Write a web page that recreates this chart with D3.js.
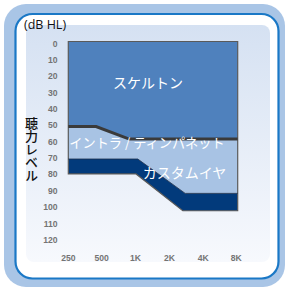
<!DOCTYPE html>
<html><head><meta charset="utf-8">
<script src="https://cdn.jsdelivr.net/npm/d3@7"></script>
<style>html,body{margin:0;padding:0;background:#fff;}svg{display:block;}</style>
</head><body>
<svg id="c" width="287" height="290"></svg>
<script>
// ---- data ----
const freqLabels = ["250", "500", "1K", "2K", "4K", "8K"];
const yTickValues = [0, 10, 20, 30, 40, 50, 60, 70, 80, 90, 100, 110, 120];
// [frequency position (0 = 250 Hz ... 5 = 8K), dB HL]
const skeletonBottom = [[0, 52], [0.82, 52], [1.8, 59.6], [5, 59.6]];
const customTop = [[0, 71.8], [2.05, 71.8], [3.45, 92.8], [5, 92.8]];
const customBottom = [[0, 80.9], [2.0, 80.9], [3.38, 103.4], [5, 103.4]];
const regionLabels = ["スケルトン", "イントラ / ティンパネット", "カスタムイヤ"];
const axisTitle = "(dB HL)";
const yLabel = "聴力レベル";

// ---- drawing ----
const svg = d3.select("#c");
const defs = svg.append("defs");
const grad = defs.append("linearGradient").attr("id", "pg").attr("x1", 0).attr("y1", 0).attr("x2", 0).attr("y2", 1);
grad.append("stop").attr("offset", "0%").attr("stop-color", "#d5e1f2");
grad.append("stop").attr("offset", "100%").attr("stop-color", "#f7f9fd");

// frames
svg.append("rect").attr("x", 4).attr("y", 4).attr("width", 281).attr("height", 283).attr("rx", 22).attr("fill", "#a9c5e6");
svg.append("rect").attr("x", 15.5).attr("y", 14).attr("width", 263).attr("height", 264.5).attr("rx", 17)
  .attr("fill", "#fff").attr("stroke", "#1a78c6").attr("stroke-width", 2.2);
svg.append("rect").attr("x", 26).attr("y", 25).attr("width", 244).attr("height", 237).attr("rx", 8).attr("fill", "url(#pg)");

const x = d3.scaleLinear().domain([0, freqLabels.length - 1]).range([68.3, 237.7]);
const y = d3.scaleLinear().domain([0, 120]).range([41.5, 237.9]);

// polygon helper: top path then reversed bottom path
function band(topPts, botPts) {
  const pts = topPts.map(d => [x(d[0]), y(d[1])]).concat(botPts.slice().reverse().map(d => [x(d[0]), y(d[1])]));
  return "M" + pts.map(p => p.join(",")).join("L") + "Z";
}
const topEdge = [[0, 0], [5, 0]];

svg.append("path").attr("d", band(skeletonBottom, customTop)).attr("fill", "#a8c3e4");
svg.append("path").attr("d", band(topEdge, skeletonBottom)).attr("fill", "#4f81bd");
svg.append("path").attr("d", band(customTop, customBottom)).attr("fill", "#023a7b");

// outline
const outline = [[x(0), y(0)], [x(5), y(0)]].concat(customBottom.slice().reverse().map(d => [x(d[0]), y(d[1])]));
svg.append("path").attr("d", "M" + outline.map(p => p.join(",")).join("L") + "Z")
  .attr("fill", "none").attr("stroke", "#5a5a5a").attr("stroke-width", 1.2);
svg.append("path").attr("d", d3.line().x(d => x(d[0])).y(d => y(d[1]))(customTop))
  .attr("fill", "none").attr("stroke", "#1d2f4a").attr("stroke-width", 0.8);

// boundary line
svg.append("path").attr("d", d3.line().x(d => x(d[0])).y(d => y(d[1]))(skeletonBottom))
  .attr("fill", "none").attr("stroke", "#3a3a3a").attr("stroke-width", 3);

// axes ticks
const tickFont = "'Liberation Sans', Arial, sans-serif";
svg.append("g").selectAll("text").data(yTickValues).join("text")
  .attr("x", 57.5).attr("y", d => y(d) + 2).attr("dy", "0.35em")
  .attr("text-anchor", "end").attr("font-family", tickFont).attr("font-size", 8.6).attr("font-weight", "bold")
  .attr("fill", "#747474").text(d => d);
svg.append("g").selectAll("text").data(freqLabels).join("text")
  .attr("x", (d, i) => x(i) + (i === 0 ? 0 : i === 5 ? -1.5 : -0.5)).attr("y", 258).attr("dy", "0.35em")
  .attr("text-anchor", "middle").attr("font-family", tickFont).attr("font-size", 8.6).attr("font-weight", "bold")
  .attr("fill", "#747474").text(d => d);

// titles
const jp = "'Noto Sans CJK JP', 'Noto Sans', sans-serif";
svg.append("text").attr("x", 24).attr("y", 24.5).attr("dy", "0.35em")
  .attr("font-family", "'Open Sans', 'Noto Sans', sans-serif").attr("font-size", 12.5).attr("fill", "#111").text(axisTitle);
svg.append("text").attr("x", 31.5).attr("y", 117)
  .style("writing-mode", "vertical-rl").style("text-orientation", "upright")
  .attr("font-family", jp).attr("font-size", 13).attr("font-weight", 500)
  .attr("fill", "#111").text(yLabel);

// region labels
const lbl = [[148, 83, 14], [147, 143.5, 13.2], [184.5, 172.8, 14]];
svg.append("g").selectAll("text").data(regionLabels).join("text")
  .attr("x", (d, i) => lbl[i][0]).attr("y", (d, i) => lbl[i][1]).attr("dy", "0.36em")
  .attr("text-anchor", "middle").attr("font-family", jp).attr("font-size", (d, i) => lbl[i][2])
  .attr("fill", "#fff").text(d => d);
</script>
</body></html>
